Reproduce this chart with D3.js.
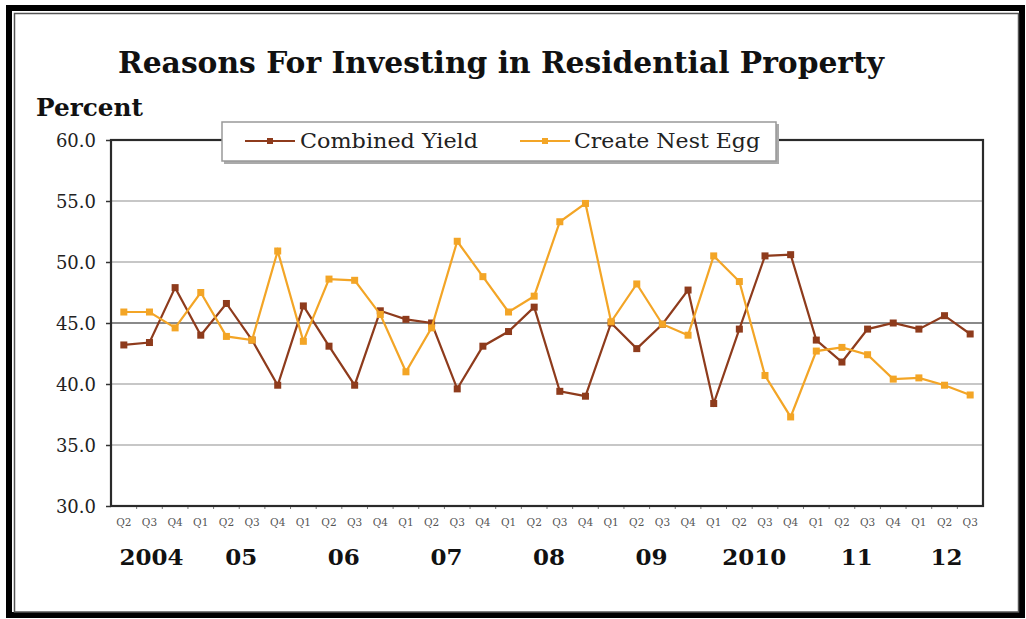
<!DOCTYPE html>
<html>
<head>
<meta charset="utf-8">
<script src="https://cdn.jsdelivr.net/npm/d3@7/dist/d3.min.js"></script>
<style>
  html, body { margin: 0; padding: 0; background: #fff; }
  svg { display: block; }
</style>
</head>
<body>
<svg id="chart" width="1026" height="619"></svg>
<script>
// Quarterly survey results, 2004 Q2 – 2012 Q3 (percent of respondents)
const quarters = [
  "Q2","Q3","Q4",
  "Q1","Q2","Q3","Q4",
  "Q1","Q2","Q3","Q4",
  "Q1","Q2","Q3","Q4",
  "Q1","Q2","Q3","Q4",
  "Q1","Q2","Q3","Q4",
  "Q1","Q2","Q3","Q4",
  "Q1","Q2","Q3","Q4",
  "Q1","Q2","Q3"
];
const years = [
  "2004","2004","2004",
  "05","05","05","05",
  "06","06","06","06",
  "07","07","07","07",
  "08","08","08","08",
  "09","09","09","09",
  "2010","2010","2010","2010",
  "11","11","11","11",
  "12","12","12"
];
const combinedYield = [
  43.2, 43.4, 47.9,
  44.0, 46.6, 43.6, 39.9,
  46.4, 43.1, 39.9, 46.0,
  45.3, 45.0, 39.6, 43.1,
  44.3, 46.3, 39.4, 39.0,
  45.0, 42.9, 44.9, 47.7,
  38.4, 44.5, 50.5, 50.6,
  43.6, 41.8, 44.5, 45.0,
  44.5, 45.6, 44.1
];
const createNestEgg = [
  45.9, 45.9, 44.6,
  47.5, 43.9, 43.6, 50.9,
  43.5, 48.6, 48.5, 45.7,
  41.0, 44.6, 51.7, 48.8,
  45.9, 47.2, 53.3, 54.8,
  45.1, 48.2, 44.9, 44.0,
  50.5, 48.4, 40.7, 37.3,
  42.7, 43.0, 42.4, 40.4,
  40.5, 39.9, 39.1
];
const yTicks = [30, 35, 40, 45, 50, 55, 60];

const seriesList = [
  { name: "Combined Yield", values: combinedYield, color: "#8e3b1c" },
  { name: "Create Nest Egg", values: createNestEgg, color: "#f3a526" }
];

const svg = d3.select("#chart");
const serif = "'DejaVu Serif', 'Liberation Serif', serif";

// Outer double frame
svg.append("rect").attr("x", 9).attr("y", 8).attr("width", 1013).attr("height", 607)
  .attr("fill", "none").attr("stroke", "#000").attr("stroke-width", 6);
svg.append("rect").attr("x", 14.5).attr("y", 13.5).attr("width", 1004).attr("height", 598.5)
  .attr("fill", "none").attr("stroke", "#555").attr("stroke-width", 1.5);

const plot = { left: 111, right: 983, top: 140, bottom: 506 };
const idx = d3.range(quarters.length);

const x = d3.scaleBand().domain(idx).range([plot.left, plot.right]).padding(0);
const cx = i => x(i) + x.bandwidth() / 2;
const y = d3.scaleLinear().domain([30, 60]).range([plot.bottom, plot.top]);

// Title
svg.append("text")
  .attr("x", 501).attr("y", 73)
  .attr("text-anchor", "middle")
  .attr("font-family", serif).attr("font-weight", "bold").attr("font-size", 29)
  .attr("textLength", 766).attr("lengthAdjust", "spacingAndGlyphs")
  .attr("fill", "#111")
  .text("Reasons For Investing in Residential Property");

svg.append("text")
  .attr("x", 36).attr("y", 116)
  .attr("font-family", serif).attr("font-weight", "bold").attr("font-size", 24)
  .attr("textLength", 107).attr("lengthAdjust", "spacingAndGlyphs")
  .attr("fill", "#111")
  .text("Percent");

// Horizontal gridlines
svg.append("g").selectAll("line")
  .data(yTicks.filter(t => t !== 30 && t !== 60))
  .join("line")
  .attr("x1", plot.left).attr("x2", plot.right)
  .attr("y1", d => y(d)).attr("y2", d => y(d))
  .attr("stroke", d => d === 45 ? "#8a8a8a" : "#b4b4b4")
  .attr("stroke-width", d => d === 45 ? 2.2 : 1.6);

// Y axis with labels
const yAxis = d3.axisLeft(y).tickValues(yTicks).tickFormat(d3.format(".1f")).tickSize(5).tickPadding(10);
const gy = svg.append("g").attr("transform", `translate(${plot.left},0)`).call(yAxis);
gy.select(".domain").remove();
gy.selectAll(".tick line").attr("stroke", "#333").attr("stroke-width", 1.5);
gy.selectAll(".tick text")
  .attr("font-family", serif).attr("font-size", 18).attr("fill", "#222")
  .attr("dy", "0.35em");

// X axis: quarter labels and small ticks at band edges
const xAxis = d3.axisBottom(x).tickFormat(i => quarters[i]).tickSize(0).tickPadding(13);
const gx = svg.append("g").attr("transform", `translate(0,${plot.bottom})`).call(xAxis);
gx.select(".domain").remove();
gx.selectAll(".tick text")
  .attr("font-family", serif).attr("font-size", 10.5).attr("fill", "#555");
svg.append("g").selectAll("line")
  .data(d3.range(1, quarters.length))
  .join("line")
  .attr("x1", i => x(i)).attr("x2", i => x(i))
  .attr("y1", plot.bottom).attr("y2", plot.bottom + 3)
  .attr("stroke", "#777").attr("stroke-width", 1);

// Year labels centred on each year's quarters
const yearGroups = d3.groups(idx, i => years[i]);
svg.append("g").selectAll("text")
  .data(yearGroups)
  .join("text")
  .attr("x", d => d3.mean(d[1], cx) + 2)
  .attr("y", 565)
  .attr("text-anchor", "middle")
  .attr("font-family", serif).attr("font-weight", "bold").attr("font-size", 23)
  .attr("fill", "#111")
  .text(d => d[0]);

// Plot border
svg.append("rect")
  .attr("x", plot.left).attr("y", plot.top)
  .attr("width", plot.right - plot.left).attr("height", plot.bottom - plot.top)
  .attr("fill", "none").attr("stroke", "#2a2a2a").attr("stroke-width", 2.2);

// Series lines and square markers
const line = d3.line().x((d, i) => cx(i)).y(d => y(d));
seriesList.forEach(s => {
  const g = svg.append("g");
  g.append("path").datum(s.values)
    .attr("d", line).attr("fill", "none")
    .attr("stroke", s.color).attr("stroke-width", 2.2);
  g.selectAll("rect").data(s.values).join("rect")
    .attr("x", (d, i) => cx(i) - 3.5).attr("y", d => y(d) - 3.5)
    .attr("width", 7).attr("height", 7).attr("fill", s.color);
});

// Legend box overlapping the top border
const lg = svg.append("g");
lg.append("rect").attr("x", 224).attr("y", 124).attr("width", 555).attr("height", 40)
  .attr("fill", "#aaa");
lg.append("rect").attr("x", 222).attr("y", 122).attr("width", 554).attr("height", 39)
  .attr("fill", "#fff").attr("stroke", "#999").attr("stroke-width", 1.5);
const legendItems = [
  { s: seriesList[0], x0: 245, tx: 300, tw: 178 },
  { s: seriesList[1], x0: 520, tx: 574, tw: 186 }
];
legendItems.forEach(it => {
  lg.append("line").attr("x1", it.x0).attr("x2", it.x0 + 50)
    .attr("y1", 141).attr("y2", 141)
    .attr("stroke", it.s.color).attr("stroke-width", 2);
  lg.append("rect").attr("x", it.x0 + 22).attr("y", 138).attr("width", 6).attr("height", 6)
    .attr("fill", it.s.color);
  lg.append("text").attr("x", it.tx).attr("y", 148)
    .attr("font-family", serif).attr("font-size", 21).attr("fill", "#222")
    .attr("textLength", it.tw).attr("lengthAdjust", "spacingAndGlyphs")
    .text(it.s.name);
});
</script>
</body>
</html>
